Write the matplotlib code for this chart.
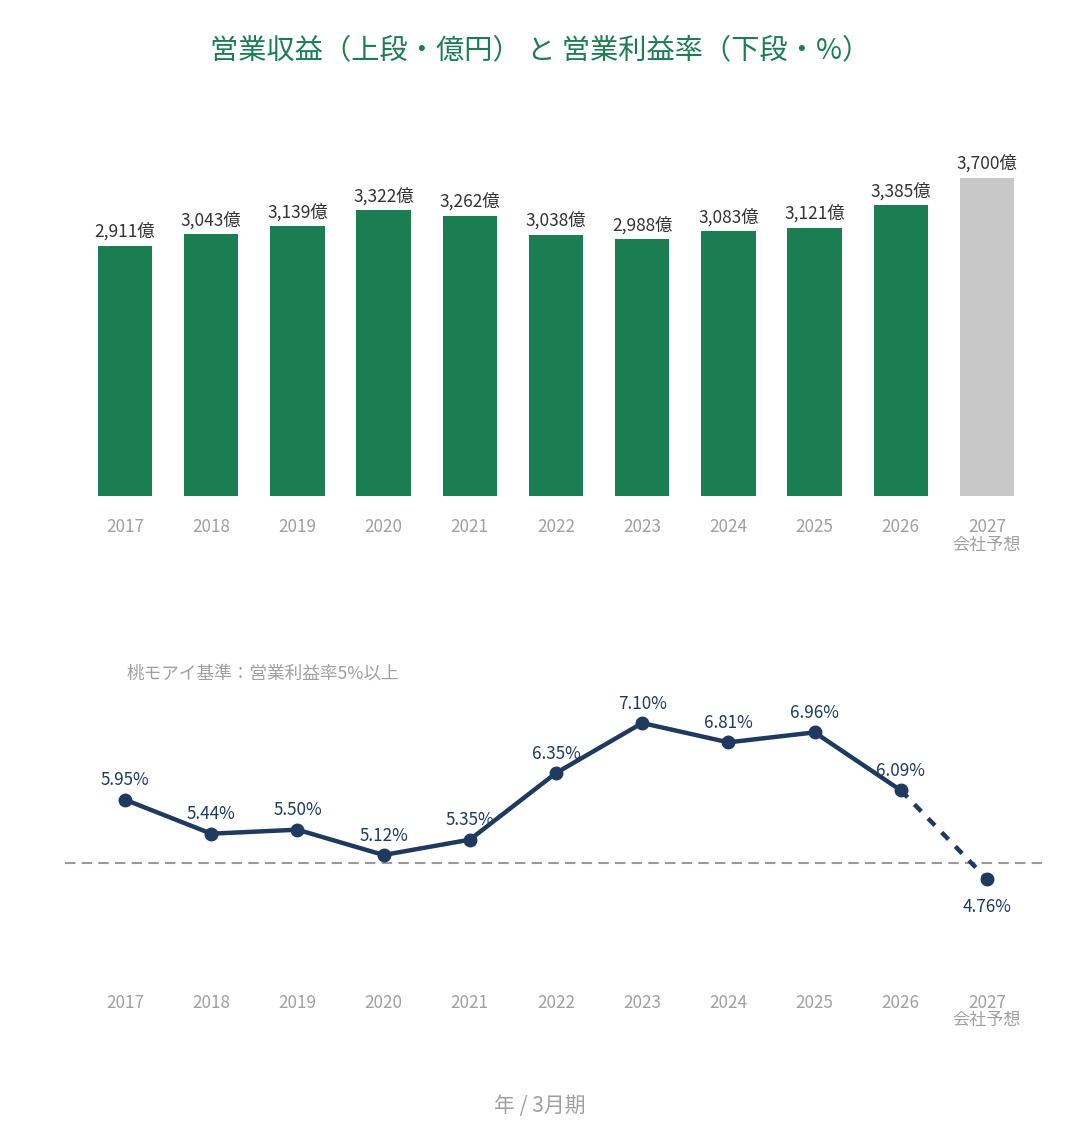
"""Operating revenue (bars) and operating margin (line), FY2017-2027."""

from matplotlib import pyplot
import numpy as np


years = ['2017', '2018', '2019', '2020', '2021', '2022',
         '2023', '2024', '2025', '2026', '2027']
revenue = [2911, 3043, 3139, 3322, 3262, 3038, 2988, 3083, 3121, 3385, 3700]
margin = [5.95, 5.44, 5.50, 5.12, 5.35, 6.35, 7.10, 6.81, 6.96, 6.09, 4.76]
threshold = 5.0
forecast_note = '会社予想'

green = '#1b7d52'
grey_bar = '#c8c8c8'
navy = '#1f3a5f'
tick_grey = '#a0a0a0'

pyplot.rcParams['font.family'] = ['Noto Sans CJK JP', 'DejaVu Sans']
fig = pyplot.figure(figsize=(10.8, 11.4), dpi=100)

x = np.arange(len(years))
ticklabels = years[:-1] + [years[-1] + '\n' + forecast_note]

# Upper panel: revenue bars.
ax1 = fig.add_axes([0.0758, 0.5649, 0.878, 0.3167])
colors = [green] * (len(years) - 1) + [grey_bar]
bars = ax1.bar(x, revenue, width=0.63, color=colors)
for xi, val in zip(x, revenue):
    ax1.annotate(f'{val:,}億', (xi, val), xytext=(0, 3.5),
                 textcoords='offset points', ha='center', va='bottom',
                 fontsize=12.5, color='#333333')
ax1.set_xlim(-0.5, 10.5)
ax1.set_ylim(0, 4200)
ax1.set_xticks(x)
ax1.set_xticklabels(ticklabels, fontsize=12.3, color=tick_grey, linespacing=0.95)
ax1.tick_params(axis='x', length=0, pad=16)
ax1.set_yticks([])
for s in ax1.spines.values():
    s.set_visible(False)

# Lower panel: operating margin line.
ax2 = fig.add_axes([0.0602, 0.1845, 0.9074, 0.2105])
ax2.set_xlim(-0.696, 10.673)
ax2.set_ylim(4.0, 7.6)
ax2.axhline(threshold, color='#9a9a9a', linewidth=1.5, linestyle=(0, (5, 3)))
ax2.plot(x[:-1], margin[:-1], color=navy, linewidth=3.2, marker='o',
         markersize=9, solid_capstyle='round')
ax2.plot(x[-2:], margin[-2:], color=navy, linewidth=3.2,
         linestyle=(0, (2.2, 2.2)))
ax2.plot(x[-1], margin[-1], color=navy, marker='o', markersize=9)
for i, (xi, val) in enumerate(zip(x, margin)):
    below = i == len(margin) - 1
    ax2.annotate(f'{val:.2f}%', (xi, val), xytext=(0, -20 if below else 14),
                 textcoords='offset points', ha='center',
                 va='center', fontsize=12.3, color=navy)
ax2.text((127 - 65) / 980, 1.03, '桃モアイ基準：営業利益率5%以上',
         transform=ax2.transAxes, fontsize=12.7, color=tick_grey,
         va='bottom', ha='left')
ax2.set_xticks(x)
ax2.set_xticklabels(ticklabels, fontsize=12.3, color=tick_grey, linespacing=0.95)
ax2.tick_params(axis='x', length=0, pad=46)
ax2.set_yticks([])
for s in ax2.spines.values():
    s.set_visible(False)

fig.text(0.5, 1 - 50 / 1140, '営業収益（上段・億円） と 営業利益率（下段・%）',
         ha='center', va='center', fontsize=20.3, color=green)
fig.text(0.5, 1 - 1106 / 1140, '年 / 3月期', ha='center', va='center',
         fontsize=15, color=tick_grey)

fig.savefig('out.png', dpi=100, facecolor='white')
